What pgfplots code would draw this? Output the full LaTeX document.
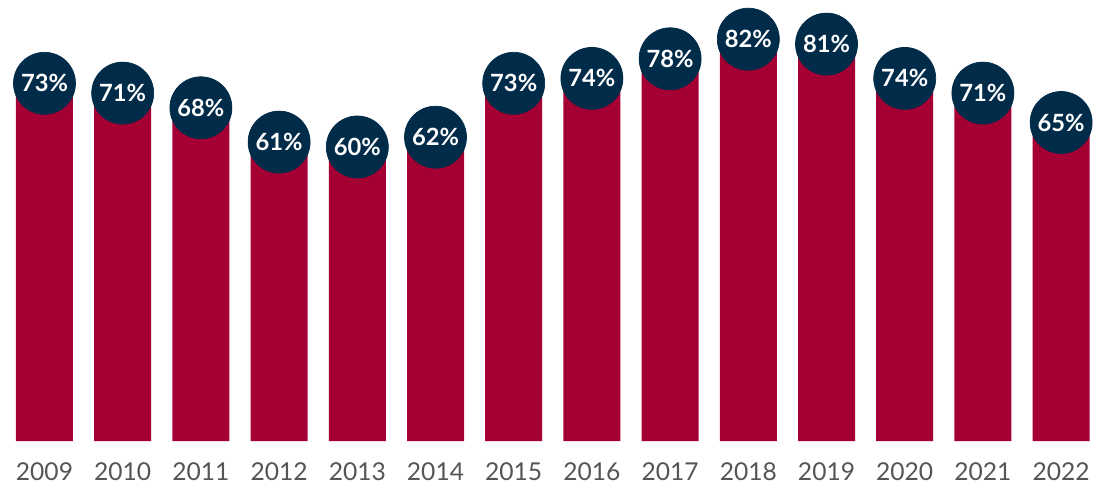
\documentclass[border=0pt]{standalone}
\usepackage{pgfplots}
\pgfplotsset{compat=1.18}
\usepackage{pgfplotstable}
\usepackage{fontspec}
\setmainfont{Lato}
\definecolor{barred}{HTML}{A50034}
\definecolor{navy}{HTML}{002B49}
\definecolor{yeargray}{HTML}{555555}
\pgfplotstableread{
x year val ylab
0 2009 73 -6.3
1 2010 71 -6.3
2 2011 68 -6.3
3 2012 61 -6.3
4 2013 60 -6.3
5 2014 62 -6.3
6 2015 73 -6.3
7 2016 74 -6.3
8 2017 78 -6.3
9 2018 82 -6.3
10 2019 81 -6.3
11 2020 74 -6.3
12 2021 71 -6.3
13 2022 65 -6.3
}\data
\begin{document}
\begin{tikzpicture}
\begin{axis}[
  width=22.02cm, height=9.72cm, scale only axis,
  xmin=-0.569, xmax=13.51, ymin=-9.18, ymax=90,
  hide axis, clip=false,
  /pgf/number format/assume math mode=true]
\addplot[ybar, bar width=1.14cm, bar shift=0pt, fill=barred, draw=none] table[x=x,y=val]{\data};
\addplot[only marks, mark=*, mark size=0.62cm, color=navy, mark options={fill=navy, draw=navy},
  point meta=y,
  nodes near coords={\pgfmathprintnumber{\pgfplotspointmeta}\%},
  nodes near coords style={anchor=center, text=white, inner sep=0pt, font=\fontsize{13.5}{16}\selectfont\bfseries}]
  table[x=x,y=val]{\data};
\addplot[draw=none, mark=none, point meta=explicit symbolic,
  nodes near coords={\pgfplotspointmeta},
  nodes near coords style={anchor=center, text=yeargray, inner sep=0pt, font=\fontsize{14}{16}\selectfont}]
  table[x=x,y=ylab,meta=year]{\data};
\path (rel axis cs:0,0) rectangle (rel axis cs:1,1);
\end{axis}
\end{tikzpicture}
\end{document}
